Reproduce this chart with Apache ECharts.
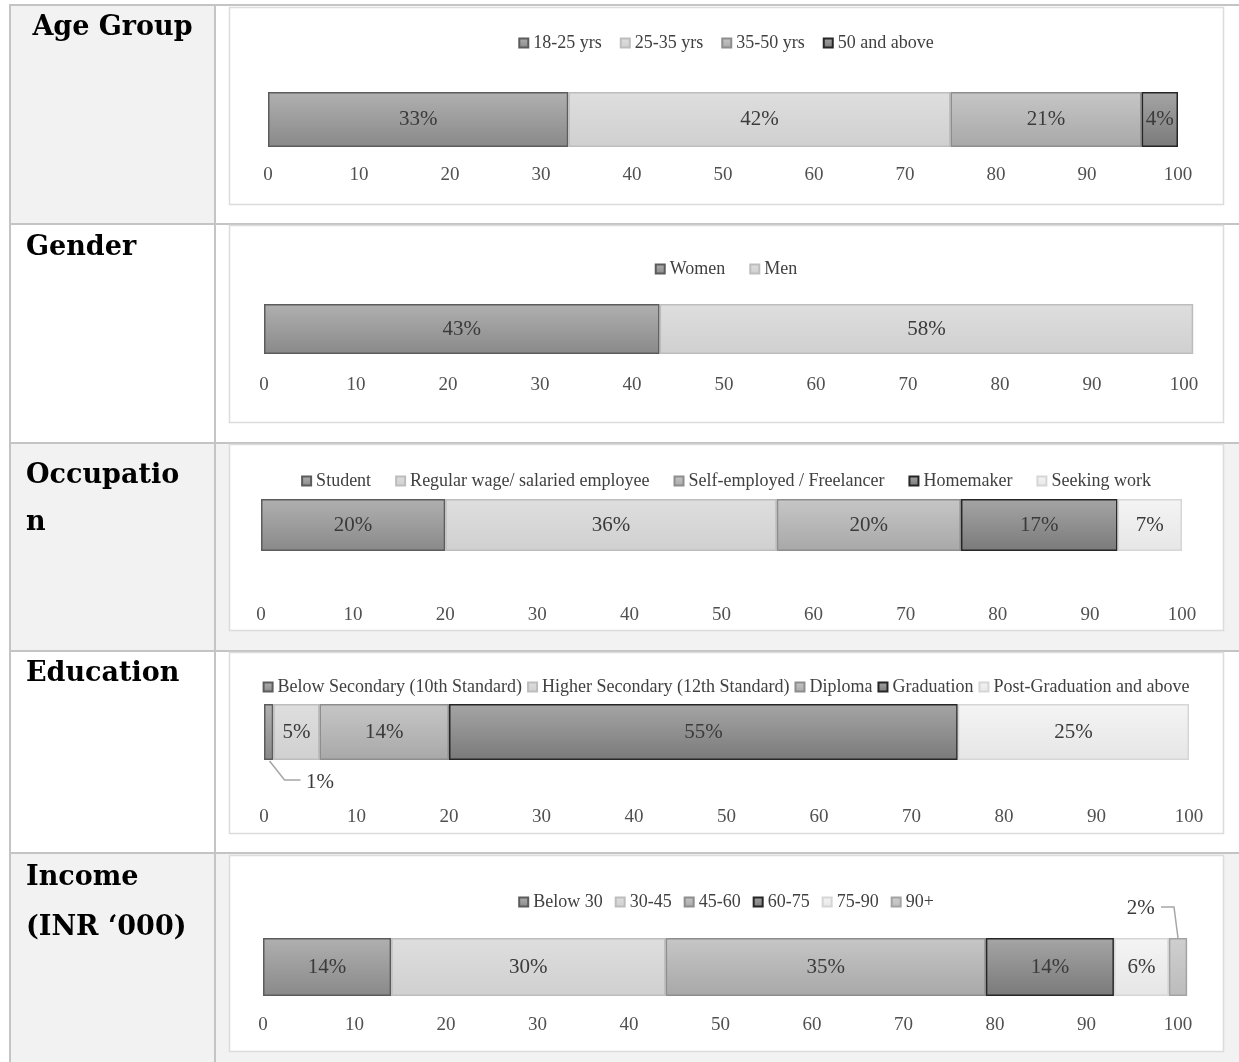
<!DOCTYPE html>
<html>
<head>
<meta charset="utf-8">
<script src="https://cdn.jsdelivr.net/npm/echarts/dist/echarts.min.js"></script>
<style>
  html, body { margin: 0; padding: 0; background: #ffffff; }
  #page { position: relative; width: 1239px; height: 1062px; overflow: hidden; }
  #table { position: absolute; left: 0; top: 0; width: 1239px; height: 1062px; }
  .row { position: absolute; }
</style>
</head>
<body>
<div id="page"><div id="table"></div></div>
<script>
// ---- Survey profile data (shares in %) ----
const ageGroups = ['18-25 yrs', '25-35 yrs', '35-50 yrs', '50 and above'];
const ageShares = [33, 42, 21, 4];

const genders = ['Women', 'Men'];
const genderShares = [43, 58];

const occupations = ['Student', 'Regular wage/ salaried employee', 'Self-employed / Freelancer', 'Homemaker', 'Seeking work'];
const occupationShares = [20, 36, 20, 17, 7];

const educationLevels = ['Below Secondary (10th Standard)', 'Higher Secondary (12th Standard)', 'Diploma', 'Graduation', 'Post-Graduation and above'];
const educationShares = [1, 5, 14, 55, 25];

const incomeBands = ['Below 30', '30-45', '45-60', '60-75', '75-90', '90+'];
const incomeShares = [14, 30, 35, 14, 6, 2];

const rowTitles = ['Age Group', 'Gender', 'Occupatio\nn', 'Education', 'Income\n(INR \u2018000)'];

const axisMin = 0, axisMax = 100, axisStep = 10;

// ---- Styling ----
const SERIF = "'Liberation Serif', 'Times New Roman', serif";
const HEAD = "'DejaVu Serif', serif";
const fills = [
  { top: '#b0b0b0', bottom: '#898989', border: '#5c5c5c' },
  { top: '#dedede', bottom: '#d0d0d0', border: '#bdbdbd' },
  { top: '#c6c6c6', bottom: '#a8a8a8', border: '#8e8e8e' },
  { top: '#a5a5a5', bottom: '#7a7a7a', border: '#262626' },
  { top: '#f4f4f4', bottom: '#e6e6e6', border: '#d6d6d6' },
  { top: '#cfcfcf', bottom: '#bcbcbc', border: '#a3a3a3' }
];

// layout of each table row: chart box on the page, plot area inside the box
const rows = [
  { names: ageGroups, values: ageShares, box: [229, 7, 994, 197],
    grid: { left: 39, top: 85, width: 910, height: 55 }, legendY: 36, legendGap: 18, tickMargin: 19 },
  { names: genders, values: genderShares, box: [229, 225, 994, 197],
    grid: { left: 35, top: 79, width: 920, height: 50 }, legendY: 44, legendGap: 24, tickMargin: 22 },
  { names: occupations, values: occupationShares, box: [229, 444, 994, 186],
    grid: { left: 32, top: 55, width: 921, height: 52 }, legendY: 37, legendGap: 24, tickMargin: 55 },
  { names: educationLevels, values: educationShares, box: [229, 652, 994, 181],
    grid: { left: 35, top: 52, width: 925, height: 56 }, legendY: 35, legendGap: 5, tickMargin: 48,
    outside: { index: 0, position: [42, 78], align: 'left' } },
  { names: incomeBands, values: incomeShares, box: [229, 855, 994, 196],
    grid: { left: 34, top: 83, width: 915, height: 58 }, legendY: 47, legendGap: 12, tickMargin: 20,
    outside: { index: 5, position: [-14, -30], align: 'right' } }
];

// ---- Table frame, shading, row headings ----
const LINE = '#c4c4c4';
const SHADE = '#f2f2f2';
const rowLines = [5, 224, 443, 651, 853];
const tableGraphics = [];
tableGraphics.push({ type: 'rect', shape: { x: 10, y: 5, width: 205, height: 219 }, style: { fill: SHADE }, silent: true });
tableGraphics.push({ type: 'rect', shape: { x: 10, y: 443, width: 1229, height: 208 }, style: { fill: SHADE }, silent: true });
tableGraphics.push({ type: 'rect', shape: { x: 10, y: 853, width: 1229, height: 209 }, style: { fill: SHADE }, silent: true });
rowLines.forEach(y => tableGraphics.push({ type: 'line', shape: { x1: 10, y1: y, x2: 1239, y2: y }, style: { stroke: LINE, lineWidth: 2 }, silent: true }));
[10, 215].forEach(x => tableGraphics.push({ type: 'line', shape: { x1: x, y1: 4, x2: x, y2: 1062 }, style: { stroke: LINE, lineWidth: 2 }, silent: true }));
rows.forEach(r => tableGraphics.push({ type: 'rect', shape: { x: r.box[0] + 0.5, y: r.box[1] + 0.5, width: r.box[2], height: r.box[3] },
  style: { fill: '#ffffff', stroke: '#dcdcdc', lineWidth: 1.5 }, silent: true }));

const headingPos = [
  { x: 112.5, y: 8, align: 'center', lh: 40 },
  { x: 26, y: 228, align: 'left', lh: 40 },
  { x: 26, y: 452, align: 'left', lh: 47 },
  { x: 26, y: 654, align: 'left', lh: 40 },
  { x: 26, y: 853, align: 'left', lh: 50 }
];
rowTitles.forEach((t, i) => {
  const p = headingPos[i];
  tableGraphics.push({ type: 'text', x: p.x, y: p.y, silent: true,
    style: { text: t, fill: '#000000', font: 'bold 27px ' + HEAD, align: p.align, verticalAlign: 'top', lineHeight: p.lh } });
});

const tableChart = echarts.init(document.getElementById('table'), null, { renderer: 'canvas' });
tableChart.setOption({ animation: false, graphic: tableGraphics });

// ---- One stacked 100% bar per table row ----
function barSeries(row) {
  return row.names.map((name, i) => {
    const f = fills[i];
    const label = { show: true, position: 'inside', formatter: '{c}%', fontFamily: SERIF, fontSize: 21, color: '#3a3a3a' };
    if (row.outside && row.outside.index === i) {
      Object.assign(label, { position: row.outside.position, align: row.outside.align, verticalAlign: 'middle' });
    }
    return {
      name: name, type: 'bar', stack: 'share', barWidth: '100%', clip: false,
      data: [row.values[i]],
      itemStyle: {
        color: new echarts.graphic.LinearGradient(0, 0, 0, 1, [{ offset: 0, color: f.top }, { offset: 1, color: f.bottom }]),
        borderColor: f.border, borderWidth: 1.5
      },
      label: label,
      emphasis: { disabled: true }
    };
  });
}

const page = document.getElementById('page');
const charts = rows.map((row, k) => {
  const div = document.createElement('div');
  div.className = 'row';
  div.style.left = row.box[0] + 'px';
  div.style.top = row.box[1] + 'px';
  div.style.width = row.box[2] + 'px';
  div.style.height = row.box[3] + 'px';
  page.appendChild(div);
  const chart = echarts.init(div, null, { renderer: 'canvas' });
  chart.setOption({
    animation: false,
    legend: {
      data: row.names, left: 'center', top: row.legendY - 9, padding: 0,
      icon: 'rect', itemWidth: 9, itemHeight: 9, itemGap: row.legendGap,
      textStyle: { fontFamily: SERIF, fontSize: 18, color: '#404040' },
      selectedMode: false
    },
    grid: Object.assign({ containLabel: false }, row.grid),
    xAxis: {
      type: 'value', min: axisMin, max: axisMax, interval: axisStep,
      axisLine: { show: false }, axisTick: { show: false }, splitLine: { show: false },
      axisLabel: { margin: row.tickMargin, fontFamily: SERIF, fontSize: 19, color: '#505050' }
    },
    yAxis: { type: 'category', data: [''], show: false },
    series: barSeries(row)
  });
  return chart;
});

// ---- Leader lines for the labels placed beside thin segments ----
function leader(chart, points) {
  chart.setOption({ graphic: [{ type: 'polyline', shape: { points: points }, silent: true,
    style: { stroke: '#a6a6a6', lineWidth: 1.5, fill: null } }] });
}
(function () {
  // Education: first segment
  const c = charts[3], r = rows[3];
  const start = c.convertToPixel({ xAxisIndex: 0, yAxisIndex: 0 }, [educationShares[0] * 0.6, 0]);
  const bottom = start[1] + r.grid.height / 2;
  leader(c, [[start[0], bottom + 1], [start[0] + 15, bottom + 20], [start[0] + 31, bottom + 20]]);
})();
(function () {
  // Income: last segment
  const c = charts[4], r = rows[4];
  const before = incomeShares.slice(0, 5).reduce((a, b) => a + b, 0);
  const mid = c.convertToPixel({ xAxisIndex: 0, yAxisIndex: 0 }, [before + incomeShares[5] / 2, 0]);
  const top = mid[1] - r.grid.height / 2;
  leader(c, [[mid[0] - 17, top - 31], [mid[0] - 4, top - 31], [mid[0], top]]);
})();
</script>
</body>
</html>
